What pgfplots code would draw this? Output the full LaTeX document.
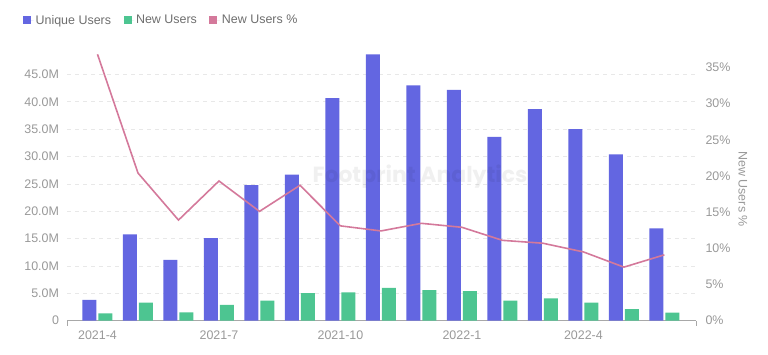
\documentclass[border=0pt]{standalone}
\usepackage{pgfplots}
\usepackage{pgfplotstable}
\pgfplotsset{compat=1.18}
\usepackage{fontspec}
\setmainfont{Liberation Sans}
\newfontfamily\wmfont{Poppins}
\definecolor{cblue}{HTML}{6366E1}
\definecolor{cgreen}{HTML}{4DC591}
\definecolor{cpink}{HTML}{D4799B}
\definecolor{ctick}{HTML}{999999}
\definecolor{clegend}{HTML}{6E6E6E}
\definecolor{cgrid}{HTML}{E8E8E8}
\definecolor{caxis}{HTML}{A8A8A8}
\pgfplotsset{sqlegend/.style={legend image code/.code={\fill[##1] (0bp,-4bp) rectangle (8bp,4bp); \path (0bp,0bp) -- (10.5bp,0bp);}}}
\pgfplotstableread{
x unique new pct
0 3.8 1.35 36.8
1 15.8 3.3 20.4
2 11.1 1.5 13.9
3 15.1 2.9 19.3
4 24.8 3.65 15.1
5 26.7 5.05 18.7
6 40.7 5.2 13.1
7 48.7 6.0 12.4
8 43.0 5.6 13.45
9 42.2 5.4 12.9
10 33.6 3.65 11.1
11 38.7 4.1 10.7
12 35.0 3.3 9.5
13 30.4 2.1 7.4
14 16.9 1.46 9.1
}\data
\begin{document}
\begin{tikzpicture}
\useasboundingbox (0,0) rectangle (768bp,355bp);
\begin{axis}[
  at={(67bp,34.3bp)}, anchor=south west,
  scale only axis, width=629bp, height=266.4bp,
  xmin=-0.753, xmax=14.78, ymin=0, ymax=48.7,
  axis x line*=bottom, axis y line*=left,
  x axis line style={-, draw=caxis, line width=0.8bp},
  y axis line style={draw=none},
  major tick length=0,
  ytick={0,5,...,45},
  yticklabels={0,5.0M,10.0M,15.0M,20.0M,25.0M,30.0M,35.0M,40.0M,45.0M},
  ymajorgrids,
  grid style={cgrid, dash pattern=on 4bp off 4bp, line width=0.8bp},
  xtick={0,3,6,9,12},
  xticklabels={2021-4,2021-7,2021-10,2022-1,2022-4},
  extra x ticks={-0.753,14.78},
  extra x tick labels={,},
  extra x tick style={major tick length=5bp, tick align=outside, tick style={draw=caxis, line width=0.8bp}, grid=none},
  tick label style={font=\fontsize{12.5}{15}\selectfont, text=ctick},
  yticklabel style={xshift=-4.5bp},
  xticklabel style={yshift=-7bp},
  legend columns=3,
  legend style={at={(-0.0748,1.1275)}, anchor=west, draw=none, fill=none,
    font=\fontsize{12.5}{15}\selectfont, text=clegend,
    /tikz/every even column/.append style={column sep=10.5bp}},
]
\addplot[ybar, bar width=14bp, bar shift=-8bp, fill=cblue, draw=none, sqlegend] table[x=x,y=unique]{\data};
\addlegendentry{Unique Users}
\addplot[ybar, bar width=14bp, bar shift=8bp, fill=cgreen, draw=none, sqlegend] table[x=x,y=new]{\data};
\addlegendentry{New Users}
\addlegendimage{fill=cpink, draw=none, sqlegend}
\addlegendentry{New Users \%}
\end{axis}
\begin{axis}[
  at={(67bp,34.3bp)}, anchor=south west,
  scale only axis, width=629bp, height=266.4bp,
  xmin=-0.753, xmax=14.78, ymin=0, ymax=36.8,
  axis x line=none, axis y line*=right,
  y axis line style={draw=none},
  major tick length=0,
  ytick={0,5,...,35},
  yticklabels={0\%,5\%,10\%,15\%,20\%,25\%,30\%,35\%},
  tick label style={font=\fontsize{12.5}{15}\selectfont, text=ctick},
  yticklabel style={xshift=6bp},
  clip=false,
]
\addplot[cpink, line width=1.6bp, no markers] table[x=x,y=pct]{\data};
\node[rotate=-90, font=\fontsize{12.5}{15}\selectfont, text=ctick] at (axis description cs:1.0747,0.494) {New Users \%};
\end{axis}
\node[font=\wmfont\bfseries\fontsize{22}{26}\selectfont, text=black, opacity=0.06] at (420bp,178bp) {Footprint Analytics};
\end{tikzpicture}
\end{document}
